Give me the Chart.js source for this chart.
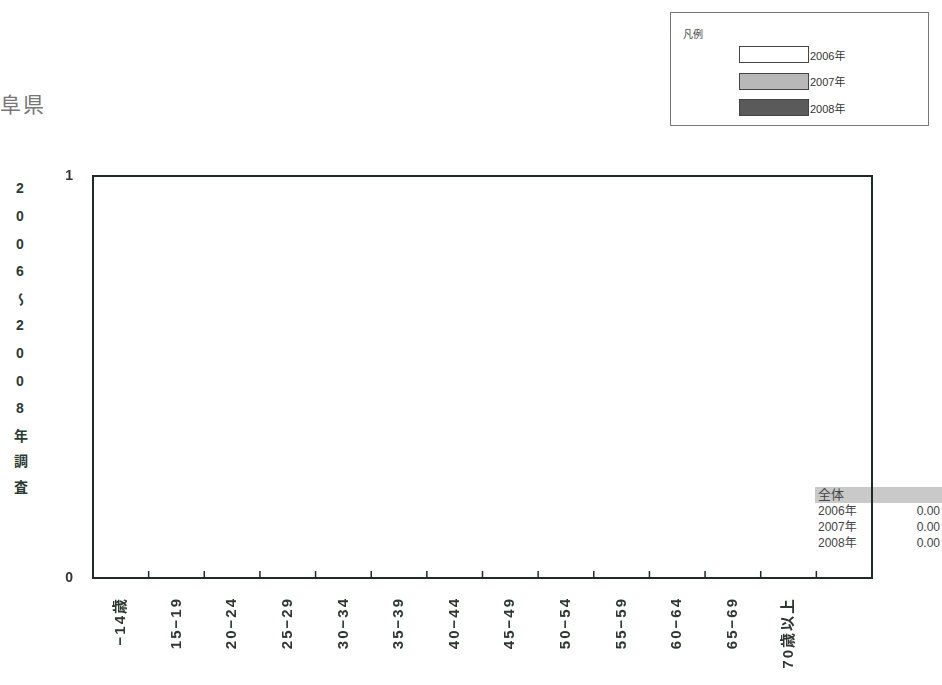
<!DOCTYPE html>
<html>
<head>
<meta charset="utf-8">
<script src="https://cdn.jsdelivr.net/npm/chart.js@4.4.1/dist/chart.umd.min.js"></script>
<style>
  html, body { margin: 0; padding: 0; background: #fff; }
  body { width: 942px; height: 685px; position: relative; overflow: hidden;
         font-family: "Liberation Sans", Arial, "Noto Sans CJK JP", sans-serif; }
  #wrap { position: absolute; left: 0; top: 0; width: 942px; height: 685px; z-index: 2; }
  #pref { position: absolute; left: 0; top: 88px; font-size: 21px; color: #777; letter-spacing: 2px; }
  #ytitle { position: absolute; left: 12px; top: 180px; writing-mode: vertical-rl; text-orientation: upright;
            font-size: 14px; font-weight: bold; color: #2b3d33; letter-spacing: 11.8px; line-height: 16px; }
  #legend { position: absolute; left: 670px; top: 12px; width: 259px; height: 114px;
            border: 1px solid #777; box-sizing: border-box; z-index: 3; background: #fff; }
  #legend .ttl { position: absolute; left: 12px; top: 13px; font-size: 10px; color: #444; }
  #legend .row { position: absolute; left: 68px; height: 17px; display: flex; align-items: center; }
  #legend .sw { width: 70px; height: 17px; border: 1px solid #444; box-sizing: border-box; }
  #legend .lb { font-size: 11px; color: #333; margin-left: 1px; }
  #summary { position: absolute; left: 815px; top: 487px; width: 127px; z-index: 1; font-size: 12px; color: #444; }
  #summary .head { background: #c9c9c9; height: 16px; line-height: 16px; padding-left: 3px; font-size: 13px; }
  #summary .r { height: 16px; line-height: 16px; display: flex; justify-content: space-between; padding-left: 3px; padding-right: 2px; }
</style>
</head>
<body>
<div id="pref">阜県</div>
<div id="ytitle">2006～2008年調査</div>
<div id="legend"><div class="ttl">凡例</div></div>
<div id="summary"><div class="head">全体</div></div>
<div id="wrap"><canvas id="chart" width="942" height="685"></canvas></div>
<script>
const categories = ['−14歳', '15−19', '20−24', '25−29', '30−34', '35−39', '40−44', '45−49',
                    '50−54', '55−59', '60−64', '65−69', '70歳以上', ''];
const years = ['2006年', '2007年', '2008年'];
const values2006 = [0, 0, 0, 0, 0, 0, 0, 0, 0, 0, 0, 0, 0, 0];
const values2007 = [0, 0, 0, 0, 0, 0, 0, 0, 0, 0, 0, 0, 0, 0];
const values2008 = [0, 0, 0, 0, 0, 0, 0, 0, 0, 0, 0, 0, 0, 0];
const totals = [0, 0, 0];
const yTicks = [0, 1];

const fills = ['#ffffff', '#b8b8b8', '#5a5a5a'];
const lineColor = '#1f2b25';
const font = '"Liberation Sans", Arial, "Noto Sans CJK JP", sans-serif';

// legend + summary from the arrays
const legend = document.getElementById('legend');
years.forEach((y, i) => {
    const row = document.createElement('div');
    row.className = 'row';
    row.style.top = (33 + i * 26.5) + 'px';
    row.innerHTML = `<div class="sw" style="background:${fills[i]}"></div><div class="lb">${y}</div>`;
    legend.appendChild(row);
});
const summary = document.getElementById('summary');
years.forEach((y, i) => {
    const r = document.createElement('div');
    r.className = 'r';
    r.innerHTML = `<span>${y}</span><span>${totals[i].toFixed(2)}</span>`;
    summary.appendChild(r);
});

// frame around the plot and short inward ticks between categories
const framePlugin = {
    id: 'frame',
    beforeDraw(chart) { chart.ctx.letterSpacing = '2px'; },
    afterDraw(chart) {
        const { ctx, chartArea: a, scales: { x } } = chart;
        ctx.letterSpacing = '0px';
        ctx.save();
        ctx.strokeStyle = lineColor;
        ctx.lineWidth = 2;
        ctx.strokeRect(a.left, a.top, a.right - a.left, a.bottom - a.top);
        ctx.lineWidth = 1.5;
        ctx.beginPath();
        for (let i = 1; i < categories.length; i++) {
            const px = (x.getPixelForValue(i - 1) + x.getPixelForValue(i)) / 2;
            ctx.moveTo(px, a.bottom);
            ctx.lineTo(px, a.bottom - 7);
        }
        ctx.stroke();
        ctx.restore();
    }
};

new Chart(document.getElementById('chart').getContext('2d'), {
    type: 'bar',
    data: {
        labels: categories,
        datasets: years.map((y, i) => ({
            label: y,
            data: [values2006, values2007, values2008][i],
            backgroundColor: fills[i],
            borderColor: '#333',
            borderWidth: 1
        }))
    },
    options: {
        responsive: false,
        animation: false,
        layout: { padding: { top: 176, right: 70, left: 0, bottom: 0 } },
        plugins: { legend: { display: false }, tooltip: { enabled: false } },
        scales: {
            x: {
                offset: true,
                grid: { display: false },
                border: { display: false },
                ticks: {
                    autoSkip: false, maxRotation: 90, minRotation: 90, padding: 11,
                    color: '#2e3832', font: { family: font, size: 15, weight: 'bold' }
                },
                afterFit: s => { s.height = 107; }
            },
            y: {
                min: yTicks[0], max: yTicks[yTicks.length - 1],
                afterBuildTicks: s => { s.ticks = yTicks.map(v => ({ value: v })); },
                grid: { display: false },
                border: { display: false },
                ticks: { padding: 10, color: '#333', font: { family: font, size: 14, weight: 'bold' } },
                afterFit: s => { s.width = 93; }
            }
        }
    },
    plugins: [framePlugin]
});
</script>
</body>
</html>
